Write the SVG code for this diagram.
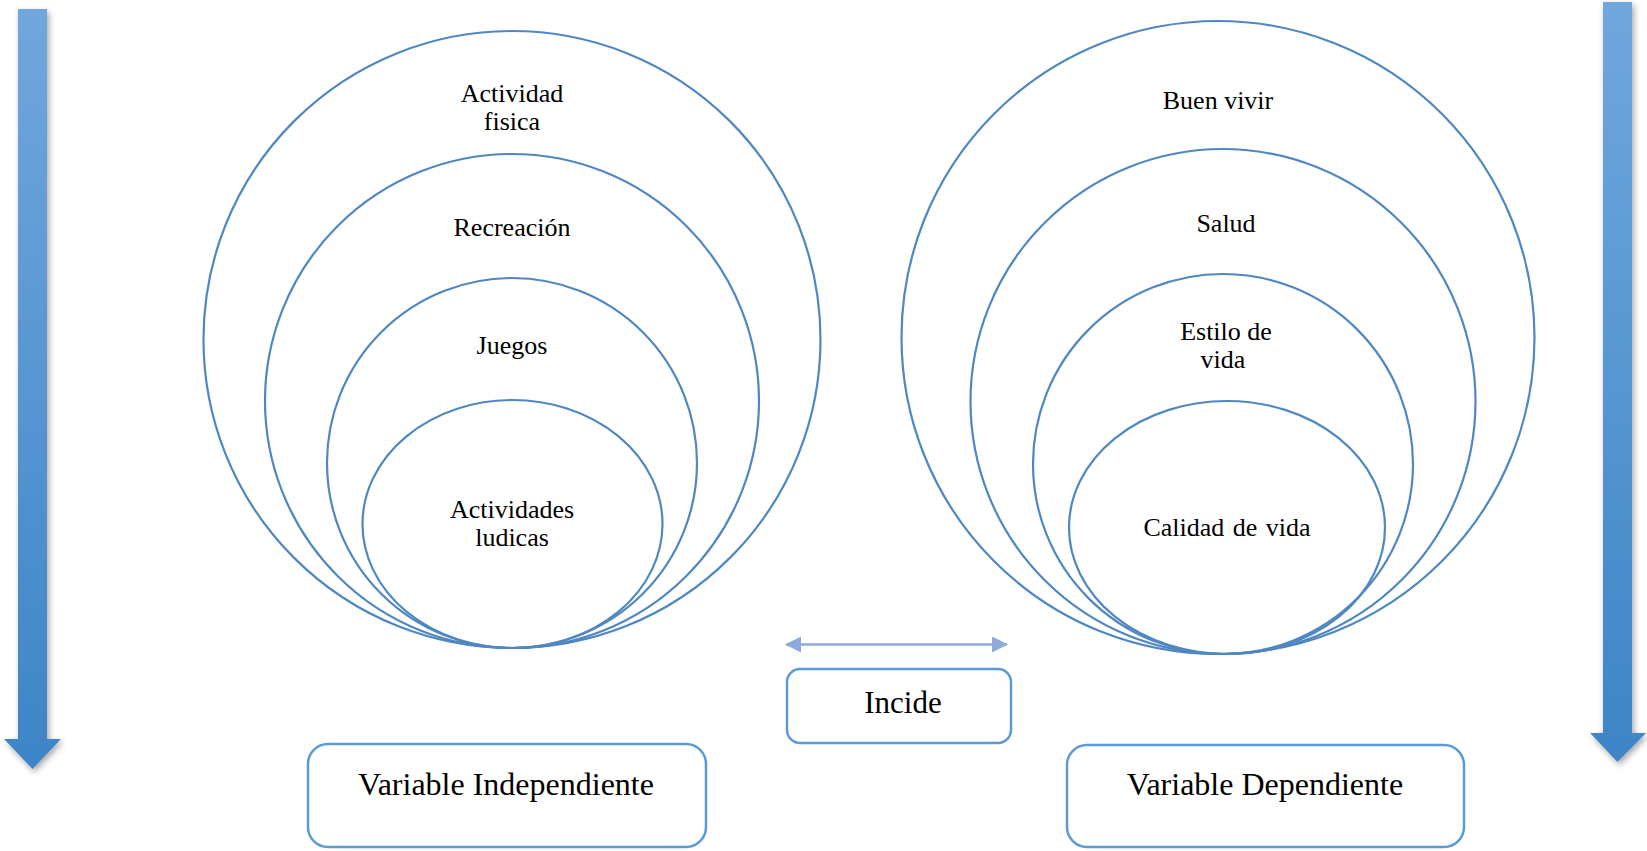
<svg xmlns="http://www.w3.org/2000/svg" width="1647" height="851" viewBox="0 0 1647 851">
<defs>
<linearGradient id="ga" x1="0" y1="0" x2="0" y2="1">
<stop offset="0" stop-color="#70a7dd"/>
<stop offset="1" stop-color="#3d85c6"/>
</linearGradient>
<filter id="sh" x="-50%" y="-5%" width="200%" height="110%">
<feDropShadow dx="2" dy="3" stdDeviation="3" flood-color="#000" flood-opacity="0.35"/>
</filter>
<marker id="ah" viewBox="0 0 16 16" refX="15" refY="8" markerWidth="16" markerHeight="16" markerUnits="userSpaceOnUse" orient="auto-start-reverse">
<path d="M0,0 L16,8 L0,16 Z" fill="#8eaadb"/>
</marker>
<style>
.c{fill:none;stroke:#4f87c2;stroke-width:2.2}
.b{fill:#fff;stroke:#5b9bd5;stroke-width:2.5}
.t{font-family:"Liberation Serif","Times New Roman",serif;font-size:26px;fill:#000;text-anchor:middle}
.tb{font-family:"Liberation Serif","Times New Roman",serif;font-size:32px;fill:#000;text-anchor:middle}
</style>
</defs>
<rect width="1647" height="851" fill="#fff"/>
<g id="arrow-left">
<path d="M18,9 H47 V739 H61 L32.5,769 L4,739 H18 Z" fill="url(#ga)" filter="url(#sh)"/>
</g>
<g id="arrow-right">
<path d="M1603,2 H1632 V733 H1646 L1617.5,762 L1590,733 H1603 Z" fill="url(#ga)" filter="url(#sh)"/>
</g>
<g id="variable-independiente-circles">
<g id="actividad-fisica"><circle class="c" cx="512" cy="339.5" r="308.5"/><text class="t" x="512" y="102">Actividad</text><text class="t" x="512" y="130">fisica</text></g>
<g id="recreacion"><circle class="c" cx="512" cy="401" r="247"/><text class="t" x="512" y="236">Recreación</text></g>
<g id="juegos"><circle class="c" cx="512" cy="463" r="185"/><text class="t" x="512" y="354">Juegos</text></g>
<g id="actividades-ludicas"><ellipse class="c" cx="512.5" cy="524" rx="150" ry="124"/><text class="t" x="512" y="518">Actividades</text><text class="t" x="512" y="546">ludicas</text></g>
</g>
<g id="variable-dependiente-circles">
<g id="buen-vivir"><circle class="c" cx="1218" cy="337.5" r="316.5"/><text class="t" x="1218" y="109">Buen vivir</text></g>
<g id="salud"><circle class="c" cx="1223" cy="401.5" r="252.5"/><text class="t" x="1226" y="232">Salud</text></g>
<g id="estilo-de-vida"><circle class="c" cx="1223" cy="464" r="190"/><text class="t" x="1226" y="340">Estilo de</text><text class="t" x="1223" y="368">vida</text></g>
<g id="calidad-de-vida"><ellipse class="c" cx="1227" cy="527.5" rx="158" ry="126.5"/><text class="t" x="1227" y="536" word-spacing="2">Calidad de vida</text></g>
</g>
<g id="connectors">
<line x1="786" y1="644.5" x2="1007" y2="644.5" stroke="#8eaadb" stroke-width="2.5" marker-start="url(#ah)" marker-end="url(#ah)"/>
</g>
<g id="incide">
<rect class="b" x="787" y="669" width="224" height="74" rx="13"/>
<text class="tb" x="903" y="713" style="font-size:31px">Incide</text>
</g>
<g id="variable-independiente">
<rect class="b" x="308" y="744" width="398" height="103" rx="20"/>
<text class="tb" x="506" y="795">Variable Independiente</text>
</g>
<g id="variable-dependiente">
<rect class="b" x="1067" y="745" width="397" height="102" rx="20"/>
<text class="tb" x="1265" y="795">Variable Dependiente</text>
</g>
</svg>
